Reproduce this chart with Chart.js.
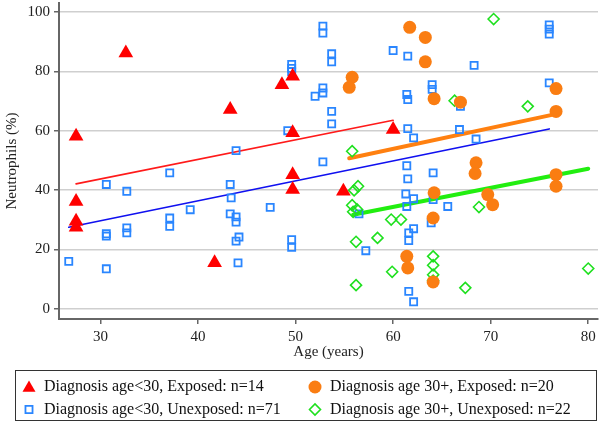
<!DOCTYPE html>
<html>
<head>
<meta charset="utf-8">
<script src="https://cdn.jsdelivr.net/npm/chart.js@4.4.1/dist/chart.umd.min.js"></script>
<style>
  body { margin: 0; background: #fff; }
</style>
</head>
<body>
<canvas id="scatter" width="600" height="425"></canvas>
<script>
// axis ticks
const xTicks = [30, 40, 50, 60, 70, 80];
const yTicks = [0, 20, 40, 60, 80, 100];

// Diagnosis age<30, exposed
const redAge = [27.5, 32.6, 27.5, 27.5, 27.5, 43.3, 48.6, 49.7, 49.7, 49.7, 49.7, 54.9, 41.7, 60.0];
const redVal = [58.1, 86.2, 36.2, 29.5, 27.5, 67.1, 75.5, 78.3, 59.3, 45.2, 40.2, 39.6, 15.5, 60.4];

// Diagnosis age<30, unexposed
const blueAge = [26.75, 30.6, 30.6, 30.6, 30.6, 32.7, 32.7, 32.7, 37.1, 37.1, 37.1, 39.2,
  43.9, 49.2, 49.6, 49.6, 49.6, 52.8, 52.8, 53.7, 53.7, 52.8, 52.8, 52.0, 53.7, 53.7, 52.8,
  43.3, 43.4, 43.3, 43.9, 43.9, 44.2, 43.9, 44.1, 47.4, 49.6, 49.6, 56.5, 57.2,
  60.0, 61.5, 68.3, 76.0, 76.0, 76.0, 64.0, 64.0, 61.4, 61.5, 66.9, 76.0, 61.5, 62.1, 66.8, 68.5, 61.4, 64.1,
  61.5, 61.3, 62.1, 61.4, 64.1, 65.6, 63.9, 62.1, 61.6, 61.6, 61.4, 61.6, 62.1];
const blueVal = [16.0, 41.9, 24.5, 25.3, 13.5, 39.6, 27.3, 25.6, 45.8, 30.6, 27.8, 33.4,
  53.3, 60.0, 82.3, 81.0, 79.9, 95.2, 92.9, 85.9, 83.2, 74.4, 72.7, 71.6, 66.5, 62.3, 49.5,
  41.9, 37.4, 32.0, 31.0, 29.2, 24.2, 22.8, 15.5, 34.2, 23.3, 20.7, 32.0, 19.6,
  87.0, 85.1, 82.0, 95.6, 94.2, 92.5, 75.5, 73.9, 72.2, 70.5, 68.2, 76.1, 60.7, 57.6, 60.4, 57.2, 48.2, 45.8,
  43.8, 38.7, 37.1, 34.5, 36.8, 34.5, 29.0, 27.0, 25.6, 23.0, 17.5, 5.9, 2.4];

// Diagnosis age 30+, exposed
const orangeAge = [55.8, 55.5, 61.7, 63.3, 63.3, 64.2, 66.9, 76.7, 76.7, 68.5,
  68.4, 64.2, 69.7, 70.2, 76.7, 76.7, 64.1, 61.4, 61.5, 64.1];
const orangeVal = [78.0, 74.6, 94.8, 91.4, 83.2, 70.8, 69.6, 74.2, 66.5, 49.2,
  45.6, 39.1, 38.5, 35.1, 45.2, 41.3, 30.6, 17.7, 13.8, 9.1];

// Diagnosis age 30+, unexposed
const greenAge = [55.8, 70.3, 66.3, 73.8, 56.0, 56.4, 55.8, 55.9, 56.2, 58.4, 56.2,
  59.9, 59.8, 60.8, 64.1, 64.1, 64.1, 67.4, 68.8, 80.0, 56.3, 64.1];
const greenVal = [53.1, 97.6, 70.1, 68.2, 39.9, 41.3, 34.9, 32.7, 22.6, 23.9, 8.0,
  12.5, 30.1, 30.1, 17.7, 14.7, 11.5, 7.1, 34.3, 13.6, 33.5, 9.5];

// fitted lines (endpoints)
const redFitAge = [27.5, 60.0];
const redFitVal = [42.1, 63.5];
const blueFitAge = [26.75, 76.0];
const blueFitVal = [27.5, 60.6];
const orangeFitAge = [55.5, 76.4];
const orangeFitVal = [50.7, 65.4];
const greenFitAge = [55.9, 80.0];
const greenFitVal = [31.7, 47.2];

const serif = "'Liberation Serif', 'Times New Roman', serif";
const font = { family: serif, size: 15 };

const red = { pointStyle: 'triangle', radius: 8.5, backgroundColor: '#ff0000', borderColor: '#ff0000', borderWidth: 0 };
const orange = { pointStyle: 'circle', radius: 6.5, backgroundColor: '#fa7d12', borderColor: '#fa7d12', borderWidth: 0 };
const blue = { pointStyle: 'rect', radius: 5, backgroundColor: 'rgba(0,0,0,0)', borderColor: '#2a86ff', borderWidth: 1.8 };
const green = { pointStyle: 'rectRot', radius: 5.5, backgroundColor: 'rgba(0,0,0,0)', borderColor: '#1ee01e', borderWidth: 1.6 };

const pts = (xs, ys) => xs.map((x, i) => ({ x, y: ys[i] }));

function points(label, xs, ys, s, order) {
  return {
    label, data: pts(xs, ys), order,
    pointStyle: s.pointStyle, pointRadius: s.radius,
    backgroundColor: s.backgroundColor, borderColor: s.borderColor, borderWidth: s.borderWidth,
  };
}

function fit(label, xs, ys, color, width, order) {
  return {
    label, data: pts(xs, ys), order,
    showLine: true, borderColor: color, borderWidth: width,
    pointRadius: 0, fill: false, borderCapStyle: 'round',
  };
}

// keep the plot area where the reference has it
function noEdgePad(a) {
  a.paddingTop = 0; a.paddingBottom = 0; a.paddingLeft = 0; a.paddingRight = 0;
}

// boxed legend under the axes, two columns
const legendRows = [
  [{ text: 'Diagnosis age<30, Exposed: n=14', s: red }, { text: 'Diagnosis age 30+, Exposed: n=20', s: orange }],
  [{ text: 'Diagnosis age<30, Unexposed: n=71', s: blue }, { text: 'Diagnosis age 30+, Unexposed: n=22', s: green }],
];

const boxLegend = {
  id: 'boxLegend',
  afterDraw(chart) {
    const ctx = chart.ctx;
    ctx.save();
    ctx.strokeStyle = '#333';
    ctx.lineWidth = 1;
    ctx.strokeRect(15.5, 370.5, 581, 50);
    ctx.font = '16px ' + serif;
    ctx.textBaseline = 'middle';
    const colX = [29, 315];
    const rowY = [387, 409.5];
    legendRows.forEach((row, r) => row.forEach((item, c) => {
      const m = item.s;
      const rad = m.pointStyle === 'triangle' ? 7.5 : m.radius;
      ctx.fillStyle = m.backgroundColor;
      ctx.strokeStyle = m.borderColor;
      ctx.lineWidth = m.borderWidth;
      Chart.helpers.drawPoint(ctx, { pointStyle: m.pointStyle, radius: rad, rotation: 0, borderWidth: m.borderWidth },
        colX[c], rowY[r] + (m.pointStyle === 'triangle' ? 1 : 0));
      ctx.fillStyle = '#111';
      ctx.fillText(item.text, colX[c] + 15, rowY[r]);
    }));
    ctx.restore();
  },
};

new Chart(document.getElementById('scatter'), {
  type: 'scatter',
  data: {
    datasets: [
      points('Diagnosis age 30+, Exposed: n=20', orangeAge, orangeVal, orange, 0),
      points('Diagnosis age<30, Exposed: n=14', redAge, redVal, red, 1),
      points('Diagnosis age 30+, Unexposed: n=22', greenAge, greenVal, green, 2),
      points('Diagnosis age<30, Unexposed: n=71', blueAge, blueVal, blue, 3),
      fit('fit red', redFitAge, redFitVal, '#ff1a1a', 1.6, 4),
      fit('fit blue', blueFitAge, blueFitVal, '#1010f0', 1.6, 4),
      fit('fit orange', orangeFitAge, orangeFitVal, '#ff8010', 4, 4),
      fit('fit green', greenFitAge, greenFitVal, '#22ee10', 4, 4),
    ],
  },
  options: {
    responsive: false,
    animation: false,
    devicePixelRatio: 1,
    events: [],
    layout: { autoPadding: false, padding: { top: 3, right: 2, left: 0, bottom: 65 } },
    plugins: { legend: { display: false }, tooltip: { enabled: false } },
    scales: {
      x: {
        type: 'linear', min: 25.75, max: 81,
        afterBuildTicks: a => { a.ticks = xTicks.map(v => ({ value: v })); },
        afterFit: a => { a.height = 41; noEdgePad(a); },
        grid: { drawOnChartArea: false, tickLength: 5, tickColor: '#666', lineWidth: 1.5 },
        border: { color: '#666', width: 2 },
        ticks: { font, color: '#222', padding: 4, maxRotation: 0 },
        title: { display: true, text: 'Age (years)', font: { family: serif, size: 15, lineHeight: 1 }, color: '#222', padding: { top: 0, bottom: 0 } },
      },
      y: {
        type: 'linear', min: -3.4, max: 103,
        afterBuildTicks: a => { a.ticks = yTicks.map(v => ({ value: v })); },
        afterFit: a => { a.width = 59; noEdgePad(a); },
        grid: { color: '#cfcfcf', lineWidth: 1.5, tickLength: 5, tickColor: '#666' },
        border: { color: '#666', width: 2 },
        ticks: { font, color: '#222', padding: 4 },
        title: { display: true, text: 'Neutrophils (%)', font, color: '#222', padding: { top: 3, bottom: 0 } },
      },
    },
  },
  plugins: [boxLegend],
});
</script>
</body>
</html>
